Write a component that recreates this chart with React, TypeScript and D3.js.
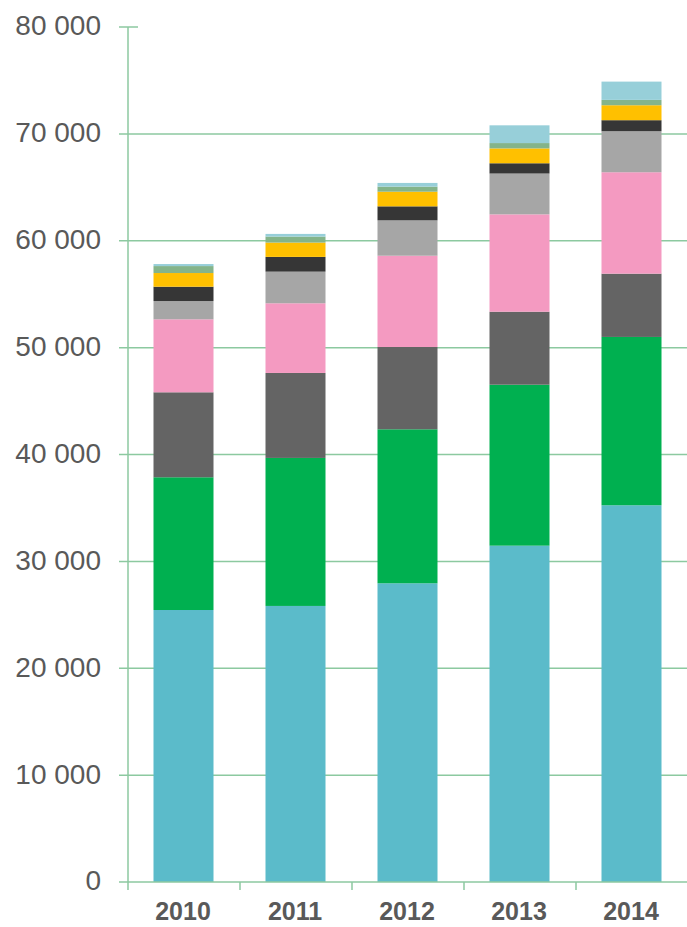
import React from "react";
import * as d3 from "d3";

const years = ["2010", "2011", "2012", "2013", "2014"];
const seriesNames = ["s1", "s2", "s3", "s4", "s5", "s6", "s7", "s8", "s9"];
const s1 = [25450, 25830, 27950, 31470, 35250];
const s2 = [12420, 13850, 14410, 15060, 15750];
const s3 = [7950, 7950, 7700, 6830, 5920];
const s4 = [6830, 6520, 8540, 9110, 9490];
const s5 = [1710, 2960, 3310, 3820, 3840];
const s6 = [1340, 1380, 1310, 960, 1030];
const s7 = [1280, 1340, 1370, 1390, 1400];
const s8 = [650, 560, 470, 500, 500];
const s9 = [190, 250, 350, 1660, 1710];
const colors = ["#5BBBCA", "#00B050", "#646464", "#F49AC1", "#A6A6A6", "#363636", "#FFC000", "#84B48A", "#97CFD9"];
const yTicks = [0, 10000, 20000, 30000, 40000, 50000, 60000, 70000, 80000];

const allSeries = [s1, s2, s3, s4, s5, s6, s7, s8, s9];

export default function App() {
  const W = 687, H = 927;
  const x = d3.scaleBand<string>().domain(years).range([128, 688]).padding(0);
  const y = d3.scaleLinear().domain([0, 80000]).range([882, 27]);
  const barW = 60;
  const barOff = (x.bandwidth() - barW) / 2 - 0.5;

  const table = years.map((yr, i) => {
    const row: any = { year: yr };
    seriesNames.forEach((n, k) => (row[n] = allSeries[k][i]));
    return row;
  });
  const stacked = d3.stack().keys(seriesNames)(table);
  const fmt = (v: number) => d3.format(",")(v).replace(/,/g, " ");
  const grid = "#8CC9A0";

  return (
    <svg width={W} height={H} style={{ position: "absolute", left: 0, top: 0 }}>
      <rect width={W} height={H} fill="#fff" />
      {yTicks.map((t) =>
        t === 0 ? null : (
          <line key={"g" + t} x1={119} x2={t === 80000 ? 138 : 687} y1={y(t)} y2={y(t)} stroke={grid} strokeWidth={1.5} />
        )
      )}
      {stacked.map((layer, k) => (
        <g key={k} fill={colors[k]}>
          {layer.map((d, i) => (
            <rect
              key={i}
              x={(x(years[i]) as number) + barOff}
              y={y(d[1])}
              width={barW}
              height={Math.max(0, y(d[0]) - y(d[1]))}
            />
          ))}
        </g>
      ))}
      <line x1={128} x2={128} y1={y(80000)} y2={y(0)} stroke={grid} strokeWidth={1.5} />
      <line x1={119} x2={687} y1={y(0)} y2={y(0)} stroke={grid} strokeWidth={1.5} />
      {years.map((yr) => (
        <line key={"t" + yr} x1={x(yr)} x2={x(yr)} y1={y(0)} y2={y(0) + 8} stroke={grid} strokeWidth={1.5} />
      ))}
      {yTicks.map((t) => (
        <text
          key={"l" + t}
          x={101}
          y={y(t)}
          dy="0.3em"
          textAnchor="end"
          fontFamily="Liberation Sans, Arial, sans-serif"
          fontSize={28}
          fill="#595959"
        >
          {fmt(t)}
        </text>
      ))}
      {years.map((yr) => (
        <text
          key={"x" + yr}
          x={(x(yr) as number) + x.bandwidth() / 2 - 1}
          y={920}
          textAnchor="middle"
          fontFamily="Liberation Sans, Arial, sans-serif"
          fontWeight="bold"
          fontSize={25}
          fill="#595959"
        >
          {yr}
        </text>
      ))}
    </svg>
  );
}
